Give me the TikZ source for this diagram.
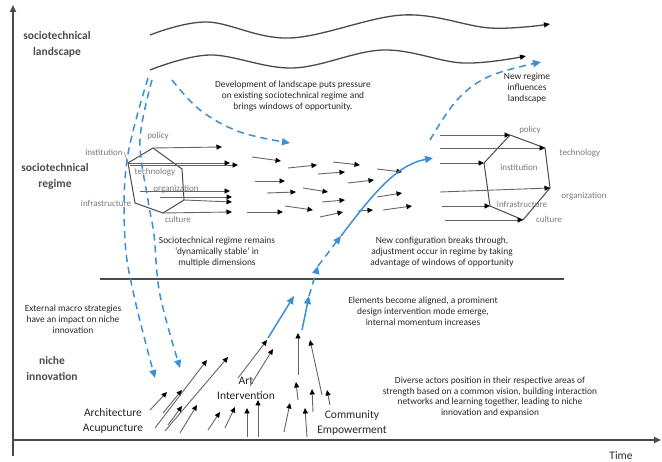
\documentclass[tikz,border=0pt]{standalone}
\usepackage{fontspec}
\setmainfont{Carlito}
\usetikzlibrary{arrows.meta}
\definecolor{bl}{HTML}{3A8FD8}
\definecolor{ln}{HTML}{4A4A4A}
\definecolor{gt}{HTML}{7A7A7A}
\begin{document}
\begin{tikzpicture}[x=1pt,y=-1pt,
  ax/.style={draw=ln, line width=1.6pt, -{Triangle[length=7pt,width=6pt]}},
  wave/.style={draw=ln, line width=1.3pt, -{Triangle[length=6pt,width=5pt,color=black]}},
  sa/.style={draw=ln!85, line width=0.9pt, -{Triangle[length=5.5pt,width=5pt,color=black]}},
  hexl/.style={draw=ln, line width=1pt},
  bd/.style={draw=bl, line width=1.5pt, dash pattern=on 7pt off 5pt, -{Triangle[length=8pt,width=7pt]}},
  bs/.style={draw=bl, line width=1.5pt, -{Triangle[length=8pt,width=7pt]}},
  txt/.style={align=center, font=\fontsize{9.4}{10.9}\selectfont, text=black!85, inner sep=0pt},
  lvl/.style={align=center, font=\fontsize{11.5}{16}\selectfont\bfseries, text=black!70, inner sep=0pt},
  hl/.style={font=\fontsize{9}{10}\selectfont, text=gt, inner sep=0pt},
  nl/.style={align=center, font=\fontsize{11.5}{15}\selectfont, text=black!85, inner sep=0pt}]
\path[use as bounding box] (0,0) rectangle (662,462);

% axes
\coordinate (o) at (13,440);
\coordinate (ytop) at (13,5);
\coordinate (xend) at (661,440);
\draw[ax] (13,456) -- (ytop);
\draw[ax] (o) -- (xend);
\node[nl] (time) at (621,456) {Time};

% level labels
\node[lvl] (land) at (57,44) {sociotechnical\\landscape};
\node[lvl] (reg) at (55,176) {sociotechnical\\regime};
\node[lvl] (niche) at (52,369) {niche\\innovation};

% landscape waves
\draw[wave] plot[smooth, tension=0.6] coordinates {(150,35) (207,22) (290,38) (403,15) (490,28) (550,24)};
\draw[wave] plot[smooth, tension=0.6] coordinates {(150,70) (210,55) (293,68) (383,50) (463,63) (526,56)};

% texts
\node[txt] (tdev) at (293,96) {Development of landscape puts pressure\\on existing sociotechnical regime and\\brings windows of opportunity.};
\node[txt] (tnew) at (527,88) {New regime\\influences\\landscape};
\node[txt] (tstab) at (217,252) {Sociotechnical regime remains\\`dynamically stable' in\\multiple dimensions};
\node[txt] (tbreak) at (442,252) {New configuration breaks through,\\adjustment occur in regime by taking\\advantage of windows of opportunity};
\node[txt] (talign) at (423,311) {Elements become aligned, a prominent\\design intervention mode emerge,\\internal momentum increases};
\node[txt] (text) at (73,319) {External macro strategies\\have an impact on niche\\innovation};
\node[txt] (tdiv) at (490,397) {Diverse actors position in their respective areas of\\strength based on a common vision, building interaction\\networks and learning together, leading to niche\\innovation and expansion};

% separator
\coordinate (s1) at (100,279);
\coordinate (s2) at (564,279);
\draw[draw=ln, line width=1.3pt] (s1) -- (s2);

% left hexagon
\coordinate (h1) at (153,148);
\coordinate (h2) at (182,169);
\coordinate (h3) at (184,200);
\coordinate (h4) at (163,213);
\coordinate (h5) at (135,203);
\coordinate (h6) at (128,163);
\draw[hexl] (h1) -- (h2) -- (h3) -- (h4) -- (h5) -- (h6) -- cycle;
\node[hl] (lpol) at (158,136) {policy};
\node[hl] (linst) at (104,152) {institution};
\draw[draw=gt, line width=0.5pt] (124,152) -- (h6);
\node[hl] (ltech) at (155,172) {technology};
\node[hl] (lorg) at (176,189) {organization};
\node[hl] (linf) at (106,203) {infrastructure};
\node[hl] (lcul) at (178,219) {culture};
\draw[sa] (h1) -- (222,147);
\draw[sa] (h6) -- (230,163);
\draw[sa] (130,165) -- (238,165);
\draw[sa] (140,191) -- (230,191);
\draw[sa] (160,197) -- (232,197);
\draw[sa] (h3) -- (232,202);
\draw[sa] (h4) -- (232,212);

% scattered regime arrows
\foreach \a/\b/\c/\d in {252/157/281/161, 255/181/285/181, 267/193/296/192, 247/212/283/212,
  288/168/317/165, 303/188/328/192, 285/206/313/210, 318/174/345/172, 333/162/360/165,
  322/202/345/200, 320/217/343/212, 348/183/374/180, 377/169/402/172, 358/211/373/210,
  377/197/402/193, 383/210/412/206}
  \draw[sa] (\a,\b) -- (\c,\d);

% right hexagon
\coordinate (r1) at (510,135);
\coordinate (r2) at (545,148);
\coordinate (r3) at (550,188);
\coordinate (r4) at (523,220);
\coordinate (r5) at (490,206);
\coordinate (r6) at (484,163);
\draw[hexl] (r1) -- (r2) -- (r3) -- (r4) -- (r5) -- (r6) -- cycle;
\draw[sa] (440,135) -- (r1);
\draw[sa] (440,148) -- (r2);
\draw[sa] (440,163) -- (r6);
\draw[sa] (440,192) -- (r3);
\draw[sa] (442,206) -- (r5);
\draw[sa] (445,220) -- (r4);
\node[hl] (rpol) at (530,130) {policy};
\node[hl] (rtech) at (580,153) {technology};
\node[hl] (rinst) at (519,167) {institution};
\node[hl] (rorg) at (584,196) {organization};
\node[hl] (rinf) at (522,204) {infrastructure};
\node[hl] (rcul) at (549,219) {culture};

% niche labels
\node[nl] (arch) at (113,421) {Architecture\\Acupuncture};
\node[nl] (art) at (246,388) {Art\\Intervention};
\node[nl] (comm) at (352,423) {Community\\Empowerment};

% niche arrows
\foreach \a/\b/\c/\d in {150/410/167/392, 163/413/182/390, 155/428/207/360, 165/431/228/357,
  168/425/182/406, 180/433/197/405, 208/430/220/412, 225/428/235/407, 247/437/247/408,
  258/437/258/400, 238/378/267/340, 250/386/273/349, 298/375/298/333, 322/395/310/340,
  298/400/296/382, 313/412/312/389, 330/405/327/390, 284/432/290/403, 307/437/305/408}
  \draw[sa] (\a,\b) -- (\c,\d);

% blue dashed arrows (landscape pressure)
\draw[bd] plot[smooth, tension=0.6] coordinates {(148,78) (127,160) (125,240) (135,300) (155,378)};
\draw[bd] plot[smooth, tension=0.6] coordinates {(152,80) (140,140) (148,200) (154,235) (160,295) (180,368)};
\draw[bd] plot[smooth, tension=0.6] coordinates {(172,80) (200,110) (240,132) (290,143)};
\draw[bd] plot[smooth, tension=0.6] coordinates {(430,140) (457,100) (490,76) (541,62)};

% blue breakthrough path
\coordinate (b0) at (268,338);
\coordinate (b1) at (294,296);
\coordinate (c0) at (302,330);
\coordinate (c1) at (309,296);
\coordinate (b2) at (318,266);
\coordinate (b3) at (341,236);
\coordinate (b4) at (433,158);
\draw[bs] (b0) -- (b1);
\draw[bs] (c0) -- (c1);
\draw[bd] (c1) -- (b2);
\draw[bd] (b2) -- (b3);
\draw[bs] (b3) .. controls (370,198) and (395,165) .. (b4);
\end{tikzpicture}
\end{document}
